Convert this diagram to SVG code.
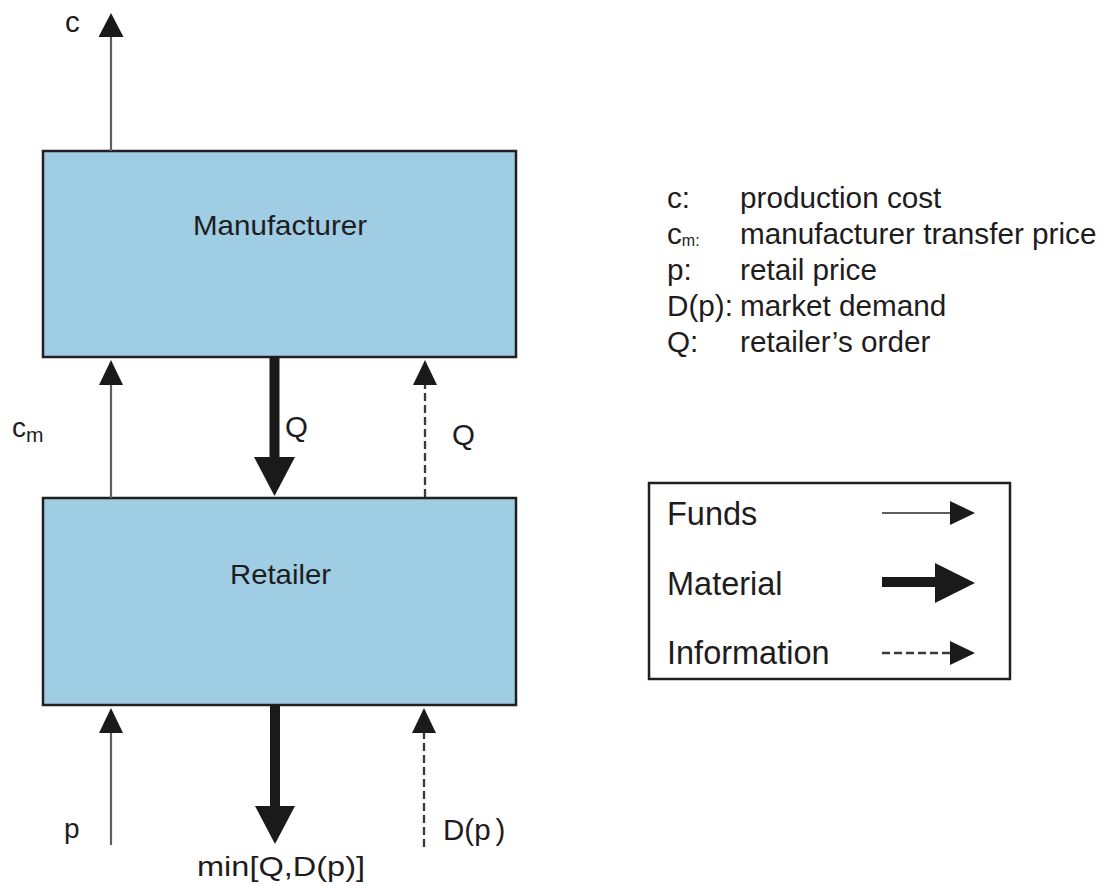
<svg xmlns="http://www.w3.org/2000/svg" width="1102" height="886" viewBox="0 0 1102 886">
  <style>
    text { font-family: "Liberation Sans", Arial, sans-serif; fill: #1f1c1d; }
    .box { fill: #9ecde4; stroke: #231f20; stroke-width: 2.5; }
    .lbl { font-size: 28px; }
    .big { font-size: 29.5px; }
    .key { font-size: 29.7px; }
    .leg { font-size: 32.5px; }
    .funds { stroke: #5f5f5f; stroke-width: 2.2; fill: none; }
    .info { stroke: #3a3a3a; stroke-width: 2.3; stroke-dasharray: 8 4; fill: none; }
    .mat { fill: #1a1a1a; }
    .head { fill: #1a1a1a; }
    .frame { fill: #fff; stroke: #231f20; stroke-width: 2.5; }
  </style>

  <!-- Nodes -->
  <g id="manufacturer">
    <rect class="box" x="43" y="151" width="473" height="206"/>
    <text class="lbl" x="193" y="235" textLength="174" lengthAdjust="spacingAndGlyphs">Manufacturer</text>
  </g>
  <g id="retailer">
    <rect class="box" x="43" y="498" width="473" height="207"/>
    <text class="lbl" x="230" y="584" textLength="101" lengthAdjust="spacingAndGlyphs">Retailer</text>
  </g>

  <!-- Connectors -->
  <g id="connectors">
    <!-- production cost out of manufacturer -->
    <line class="funds" x1="111" y1="151" x2="111" y2="36"/>
    <polygon class="head" points="111,13 98.5,37 123.5,37"/>
    <!-- transfer price, retailer to manufacturer -->
    <line class="funds" x1="111" y1="498" x2="111" y2="384"/>
    <polygon class="head" points="111,360 99,385 123,385"/>
    <!-- material Q, manufacturer to retailer -->
    <rect class="mat" x="269.5" y="357" width="10" height="101"/>
    <polygon class="head" points="254,457 295,457 274.5,496"/>
    <!-- order information Q -->
    <line class="info" x1="425" y1="497" x2="425" y2="384"/>
    <polygon class="head" points="425,360 413,385 437,385"/>
    <!-- retail price p -->
    <line class="funds" x1="111" y1="845" x2="111" y2="732"/>
    <polygon class="head" points="111,708 99,733 123,733"/>
    <!-- material out to market -->
    <rect class="mat" x="270" y="705" width="10" height="102"/>
    <polygon class="head" points="255,806 295,806 275,844"/>
    <!-- demand information D(p) -->
    <line class="info" x1="424" y1="847" x2="424" y2="732"/>
    <polygon class="head" points="424,708 412,733 436,733"/>
  </g>

  <!-- Flow labels -->
  <g id="flow-labels">
    <text class="big" x="65" y="32">c</text>
    <text class="lbl" x="12" y="437">c<tspan font-size="21" dy="5">m</tspan></text>
    <text class="big" x="285" y="437">Q</text>
    <text class="big" x="452" y="445">Q</text>
    <text class="lbl" x="64" y="838">p</text>
    <text class="big" x="443" y="840">D(p<tspan dx="5">)</tspan></text>
    <text class="lbl" x="197" y="876" textLength="168" lengthAdjust="spacingAndGlyphs">min[Q,D(p)]</text>
  </g>

  <!-- Symbol key -->
  <g id="symbol-key">
    <text class="key" x="667" y="208">c:</text>
    <text class="key" x="740" y="208">production cost</text>
    <text class="key" x="667" y="244">c<tspan font-size="16" dy="2">m:</tspan></text>
    <text class="key" x="740" y="244">manufacturer transfer price</text>
    <text class="key" x="667" y="280">p:</text>
    <text class="key" x="740" y="280">retail price</text>
    <text class="key" x="667" y="316">D(p):</text>
    <text class="key" x="740" y="316">market demand</text>
    <text class="key" x="667" y="352">Q:</text>
    <text class="key" x="740" y="352">retailer’s order</text>
  </g>

  <!-- Flow type legend -->
  <g id="legend">
    <rect class="frame" x="649" y="483" width="361" height="196"/>
    <text class="leg" x="667" y="525">Funds</text>
    <text class="leg" x="667" y="595">Material</text>
    <text class="leg" x="667" y="664">Information</text>
    <line class="funds" x1="882" y1="513" x2="952" y2="513"/>
    <polygon class="head" points="975,513 950,501 950,525"/>
    <rect class="mat" x="882" y="577" width="55" height="10"/>
    <polygon class="head" points="975,583 935,563 935,603"/>
    <line class="info" x1="882" y1="653" x2="952" y2="653"/>
    <polygon class="head" points="975,653 950,641 950,665"/>
  </g>
</svg>
